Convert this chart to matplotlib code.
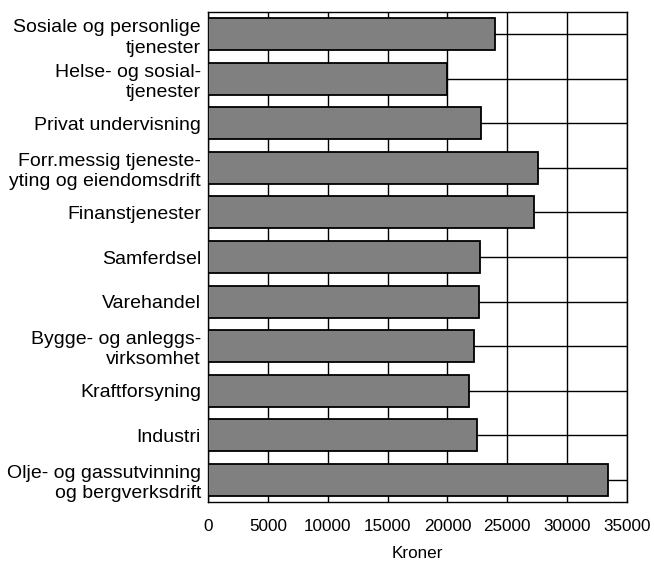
import matplotlib
matplotlib.use("Agg")
import matplotlib.pyplot as plt

# categories top to bottom
categories = ["Sosiale og personlige\ntjenester",
              "Helse- og sosial-\ntjenester",
              "Privat undervisning",
              "Forr.messig tjeneste-\nyting og eiendomsdrift",
              "Finanstjenester",
              "Samferdsel",
              "Varehandel",
              "Bygge- og anleggs-\nvirksomhet",
              "Kraftforsyning",
              "Industri",
              "Olje- og gassutvinning\nog bergverksdrift"]
kroner = [24000, 20000, 22800, 27600, 27200, 22700, 22600, 22200, 21800, 22500, 33400]
xticks = [0, 5000, 10000, 15000, 20000, 25000, 30000, 35000]

plt.rcParams['font.family'] = ['Liberation Sans', 'DejaVu Sans']

fig = plt.figure(figsize=(6.54, 5.63), dpi=100)
ax = fig.add_axes([208/654, 1-502/563, (627-208)/654, (502-12)/563])

ypos = list(range(len(categories)))
ax.barh(ypos, kroner, height=0.72, color="#808080", edgecolor="black", linewidth=1.3, zorder=3)

ax.set_xlim(0, 35000)
ax.set_ylim(len(categories)-0.5, -0.5)
ax.set_xticks(xticks)
ax.set_xticklabels([str(t) for t in xticks])
ax.set_yticks(ypos)
ax.set_yticklabels(categories, fontsize=14, linespacing=1.25)
ax.tick_params(axis="x", length=0, pad=12, labelsize=12.3)
ax.tick_params(axis="y", length=0, pad=5)
ax.grid(True, color="black", linewidth=1.0, zorder=0)
ax.set_axisbelow(True)
for s in ax.spines.values():
    s.set_color("black")
    s.set_linewidth(1.0)
ax.set_xlabel("Kroner", fontsize=12.3, labelpad=9)

plt.savefig("out.png", dpi=100)
